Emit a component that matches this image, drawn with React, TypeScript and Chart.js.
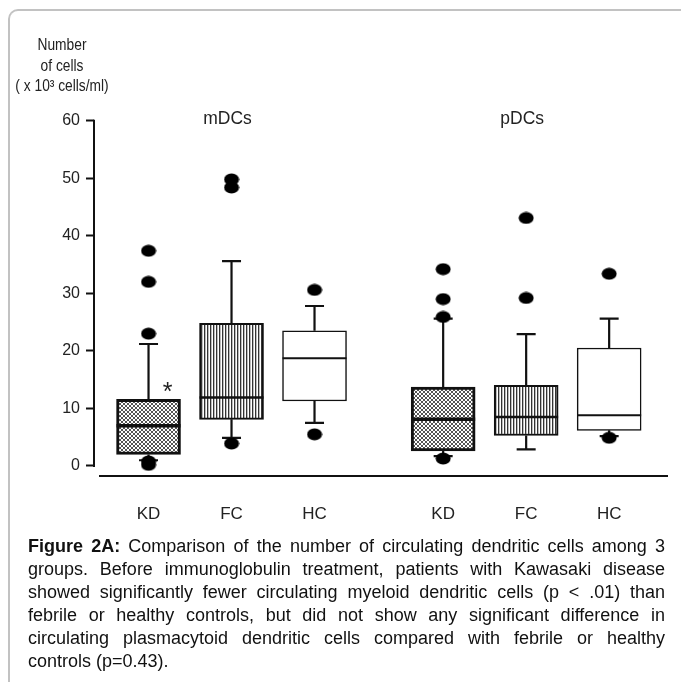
import React, { useEffect, useRef } from 'react';
import { Chart, registerables } from 'chart.js';

Chart.register(...registerables);

// ---- data ----
const groupTitles = ['mDCs', 'pDCs'];
const categories = ['KD', 'FC', 'HC'];
const yTicks = [0, 10, 20, 30, 40, 50, 60];
const yAxisTitle = ['Number', 'of cells', '( x 10\u00b3 cells/ml)'];
// boxes in order: mDCs KD, FC, HC, pDCs KD, FC, HC
const lowerWhisker = [1.0, 4.9, 7.5, 1.7, 2.9, 5.2];
const q1 = [2.0, 8.1, 11.3, 2.6, 5.3, 6.2];
const median = [7.0, 11.9, 18.7, 8.1, 8.5, 8.8];
const q3 = [11.6, 24.8, 23.5, 13.7, 14.0, 20.5];
const upperWhisker = [21.2, 35.6, 27.8, 25.6, 22.9, 25.6];
const outliers = [
  [37.4, 32.0, 23.0, 0.8, 0.2],
  [49.8, 48.4, 3.9],
  [30.6, 5.5],
  [34.2, 29.0, 25.9, 1.3],
  [43.1, 29.2],
  [33.4, 4.9],
];
const significance = ['*', '', '', '', '', ''];

const captionBold = 'Figure 2A:';
const captionLines = [
  ' Comparison of the number of circulating dendritic cells among 3',
  'groups. Before immunoglobulin treatment, patients with Kawasaki disease',
  'showed significantly fewer circulating myeloid dendritic cells (p < .01) than',
  'febrile or healthy controls, but did not show any significant difference in',
  'circulating plasmacytoid dendritic cells compared with febrile or healthy',
  'controls (p=0.43).',
];

// ---- layout constants ----
const GROUP_GAP = 3.55;
const positions = groupTitles.flatMap((_, gi) => categories.map((_, ci) => gi * GROUP_GAP + ci));
const boxNames = groupTitles.flatMap(() => categories);

const SANS = "'Liberation Sans', Arial, sans-serif";

function makeCrossHatch(): CanvasPattern | string {
  const c = document.createElement('canvas');
  c.width = 4; c.height = 4;
  const g = c.getContext('2d')!;
  g.fillStyle = '#fff';
  g.fillRect(0, 0, 4, 4);
  g.strokeStyle = '#555';
  g.lineWidth = 1;
  g.beginPath();
  g.moveTo(-1, -1); g.lineTo(5, 5);
  g.moveTo(5, -1); g.lineTo(-1, 5);
  g.stroke();
  const ctx = document.createElement('canvas').getContext('2d')!;
  return ctx.createPattern(c, 'repeat') || '#999';
}

function makeVertical(): CanvasPattern | string {
  const c = document.createElement('canvas');
  c.width = 3; c.height = 3;
  const g = c.getContext('2d')!;
  g.fillStyle = '#fff';
  g.fillRect(0, 0, 3, 3);
  g.fillStyle = '#333';
  g.fillRect(0, 0, 1, 3);
  g.fillStyle = '#bbb';
  g.fillRect(1, 0, 1, 3);
  const ctx = document.createElement('canvas').getContext('2d')!;
  return ctx.createPattern(c, 'repeat') || '#aaa';
}

function makeDot(): HTMLCanvasElement {
  const c = document.createElement('canvas');
  c.width = 16; c.height = 13;
  const g = c.getContext('2d')!;
  g.fillStyle = '#000';
  g.beginPath();
  g.ellipse(8, 6.5, 7.5, 6, 0, 0, Math.PI * 2);
  g.fill();
  return c;
}

const borderWidths = [3, 2, 1.5, 3, 2, 1.5];
const medianWidths = [3.5, 2.5, 2, 3.5, 2.5, 2];

function condensedText(ctx: CanvasRenderingContext2D, text: string, cx: number, cy: number, squeeze: number) {
  ctx.save();
  ctx.translate(cx, cy);
  ctx.scale(squeeze, 1);
  ctx.fillText(text, 0, 0);
  ctx.restore();
}

const extrasPlugin = {
  id: 'boxExtras',
  beforeDatasetsDraw(chart: any) {
    const { ctx, chartArea, scales } = chart;
    const x = scales.x, y = scales.y;
    ctx.save();
    ctx.strokeStyle = '#111';
    ctx.lineCap = 'butt';
    // y axis line
    ctx.lineWidth = 2;
    ctx.beginPath();
    ctx.moveTo(chartArea.left, y.getPixelForValue(yTicks[0]) + 1);
    ctx.lineTo(chartArea.left, y.getPixelForValue(yTicks[yTicks.length - 1]) - 1);
    ctx.stroke();
    // x axis line
    ctx.beginPath();
    ctx.moveTo(chartArea.left + 5, chartArea.bottom);
    ctx.lineTo(chartArea.right, chartArea.bottom);
    ctx.stroke();
    // whiskers
    ctx.lineWidth = 2.2;
    positions.forEach((p, i) => {
      const cx = x.getPixelForValue(p);
      const half = 9.5;
      const yTop = y.getPixelForValue(upperWhisker[i]);
      const yBot = y.getPixelForValue(lowerWhisker[i]);
      ctx.beginPath();
      ctx.moveTo(cx, y.getPixelForValue(q3[i]));
      ctx.lineTo(cx, yTop);
      ctx.moveTo(cx - half, yTop);
      ctx.lineTo(cx + half, yTop);
      ctx.moveTo(cx, y.getPixelForValue(q1[i]));
      ctx.lineTo(cx, yBot);
      ctx.moveTo(cx - half, yBot);
      ctx.lineTo(cx + half, yBot);
      ctx.stroke();
    });
    ctx.restore();
  },
  afterDatasetDraw(chart: any, args: any) {
    if (args.index !== 0) return;
    const { ctx, scales } = chart;
    const y = scales.y;
    const meta = chart.getDatasetMeta(0);
    ctx.save();
    ctx.strokeStyle = '#111';
    meta.data.forEach((bar: any, i: number) => {
      const yy = y.getPixelForValue(median[i]);
      ctx.lineWidth = medianWidths[i];
      ctx.beginPath();
      ctx.moveTo(bar.x - bar.width / 2, yy);
      ctx.lineTo(bar.x + bar.width / 2, yy);
      ctx.stroke();
    });
    ctx.restore();
  },
  afterDraw(chart: any) {
    const { ctx, scales } = chart;
    const x = scales.x, y = scales.y;
    ctx.save();
    ctx.fillStyle = '#222';
    ctx.textAlign = 'center';
    ctx.textBaseline = 'middle';
    // y axis title
    ctx.font = `16px ${SANS}`;
    const titleY = [46, 67, 87];
    yAxisTitle.forEach((t, i) => condensedText(ctx, t, 62, titleY[i], 0.86));
    // group titles
    ctx.font = `19px ${SANS}`;
    groupTitles.forEach((t, gi) => {
      const cx = x.getPixelForValue(positions[gi * categories.length + 1]);
      condensedText(ctx, t, cx - 4, y.getPixelForValue(yTicks[yTicks.length - 1]) - 2, 0.92);
    });
    // significance marks
    ctx.font = `25px ${SANS}`;
    ctx.textBaseline = 'alphabetic';
    significance.forEach((s, i) => {
      if (!s) return;
      const cx = x.getPixelForValue(positions[i]);
      ctx.fillText(s, cx + 19, y.getPixelForValue(q3[i]) + 1);
    });
    ctx.restore();
  },
};

function BoxChart() {
  const ref = useRef<HTMLCanvasElement>(null);
  useEffect(() => {
    if (!ref.current) return;
    const cross = makeCrossHatch();
    const vert = makeVertical();
    const fills = groupTitles.flatMap(() => [cross, vert, '#ffffff']);
    const dot = makeDot();
    const outlierPoints = outliers.flatMap((vals, i) => vals.map((v) => ({ x: positions[i], y: v })));
    const chart = new Chart(ref.current, {
      type: 'bar',
      data: {
        datasets: [
          {
            type: 'bar',
            data: positions.map((p, i) => ({ x: p, y: [q1[i], q3[i]] })) as any,
            backgroundColor: fills as any,
            borderColor: '#111',
            borderWidth: borderWidths,
            borderSkipped: false,
            barThickness: 64,
            order: 2,
          } as any,
          {
            type: 'scatter',
            data: outlierPoints,
            pointStyle: dot as any,
            pointRadius: 6,
            order: 1,
          } as any,
        ],
      },
      options: {
        animation: false,
        responsive: false,
        maintainAspectRatio: false,
        events: [],
        layout: { padding: { left: 0, right: 13, top: 120.7, bottom: 0 } },
        plugins: { legend: { display: false }, tooltip: { enabled: false }, title: { display: false } },
        scales: {
          x: {
            type: 'linear',
            offset: false,
            min: -0.657,
            max: 6.259,
            grid: { display: false, offset: false },
            border: { display: false },
            afterBuildTicks: (scale: any) => {
              scale.ticks = positions.map((v) => ({ value: v }));
            },
            afterFit: (scale: any) => {
              scale.height = 540 - 476;
            },
            ticks: {
              autoSkip: false,
              maxRotation: 0,
              padding: 20,
              color: '#222',
              font: { family: SANS, size: 17 },
              callback: (_v: any, idx: number) => boxNames[idx],
            },
          },
          y: {
            type: 'linear',
            min: -1.74,
            max: 60,
            grid: { display: true, drawOnChartArea: false, drawTicks: true, tickLength: 8, tickColor: '#111', tickWidth: 2 },
            border: { display: false },
            afterBuildTicks: (scale: any) => {
              scale.ticks = yTicks.map((v) => ({ value: v }));
            },
            afterFit: (scale: any) => {
              scale.width = 94;
            },
            ticks: {
              padding: 6,
              color: '#222',
              font: { family: SANS, size: 16 },
            },
          },
        },
      } as any,
      plugins: [extrasPlugin],
    });
    return () => chart.destroy();
  }, []);
  return <canvas ref={ref} width={681} height={540} style={{ position: 'absolute', left: 0, top: 0, width: 681, height: 540 }} />;
}

export default function App() {
  return (
    <div style={{ position: 'absolute', left: 0, top: 0, width: 681, height: 682, overflow: 'hidden', background: '#fff' }}>
      <div
        style={{
          position: 'absolute', left: 8, top: 9, width: 690, height: 690,
          borderTop: '2px solid #c2c2c2', borderLeft: '2px solid #c2c2c2', borderTopLeftRadius: 10,
        }}
      />
      <BoxChart />
      <div
        style={{
          position: 'absolute', left: 28, top: 535, width: 637,
          fontFamily: SANS, fontSize: 18, lineHeight: '23px', color: '#111',
        }}
      >
        {captionLines.map((line, i) => (
          <div
            key={i}
            style={{
              textAlign: i === captionLines.length - 1 ? 'left' : 'justify',
              textAlignLast: i === captionLines.length - 1 ? 'left' : 'justify',
              whiteSpace: 'nowrap',
            } as any}
          >
            {i === 0 ? <b>{captionBold}</b> : null}
            {line}
          </div>
        ))}
      </div>
    </div>
  );
}
